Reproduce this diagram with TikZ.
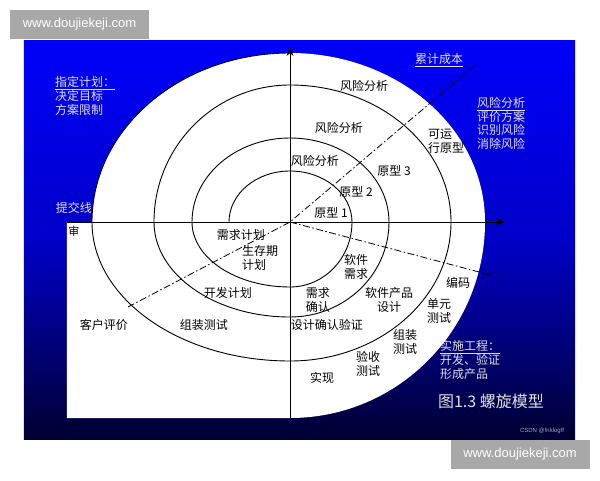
\documentclass[tikz,border=0pt]{standalone}
\usepackage{fontspec}
\newfontfamily\cjk{Noto Sans CJK SC}
\newfontfamily\wmfont{Liberation Sans}
\usetikzlibrary{arrows.meta}
\definecolor{panelblue}{RGB}{0,0,250}
\definecolor{panelmid}{RGB}{0,0,200}
\definecolor{panelnavy}{RGB}{0,0,50}
\definecolor{wmgray}{RGB}{168,168,168}
\definecolor{notegray}{RGB}{224,224,224}

\begin{document}
\begin{tikzpicture}[
    x=1pt, y=1pt,
    axis/.style={line width=0.8pt, -{Stealth[length=9pt, width=7pt]}},
    spiral line/.style={line width=0.9pt},
    dashdot line/.style={line width=0.8pt, dash pattern=on 7pt off 2.5pt on 1.5pt off 2.5pt},
    lbl/.style={font=\cjk\fontsize{12}{13.7}\selectfont, inner sep=0pt, align=center},
    note/.style={lbl, text=notegray, align=left},
    watermark/.style={fill=wmgray, text=white, font=\wmfont\fontsize{13}{15}\selectfont,
        inner sep=0pt, minimum width=139pt, minimum height=29pt}
    ]

    \useasboundingbox (-290,-258) rectangle (310,222);
    % background panel
    \shade[top color=panelblue, bottom color=panelnavy, middle color=panelmid]
        (-266,-217) rectangle (285,182);
    % white region
    \fill[white] (-223,0) -- (-198,0)
        arc[start angle=180, end angle=90, x radius=198, y radius=169]
        arc[start angle=90, end angle=0, x radius=195, y radius=169]
        arc[start angle=0, end angle=-90, x radius=195, y radius=196]
        -- (-223,-196) -- cycle;

    % spiral
    \draw[spiral line] (-61,0)
        arc[start angle=180, end angle=90, x radius=61, y radius=51]
        arc[start angle=90, end angle=0, x radius=62, y radius=51]
        arc[start angle=0, end angle=-90, x radius=62, y radius=65]
        arc[start angle=-90, end angle=-180, x radius=98, y radius=65]
        arc[start angle=180, end angle=90, x radius=98, y radius=84]
        arc[start angle=90, end angle=0, x radius=99, y radius=84]
        arc[start angle=0, end angle=-90, x radius=99, y radius=95]
        arc[start angle=-90, end angle=-180, x radius=136, y radius=95]
        arc[start angle=180, end angle=90, x radius=136, y radius=137]
        arc[start angle=90, end angle=0, x radius=161, y radius=137]
        arc[start angle=0, end angle=-90, x radius=161, y radius=139]
        arc[start angle=-90, end angle=-180, x radius=198, y radius=139]
        arc[start angle=180, end angle=90, x radius=198, y radius=169];

    % axes
    \coordinate (O) at (0,0);
    \coordinate (xl) at (-223,0);
    \coordinate (xr) at (215,0);
    \coordinate (yb) at (0,-196);
    \coordinate (yt) at (0,175);
    \draw[axis] (xl) -- (xr);
    \draw[axis] (yb) -- (yt);

    % dash-dot lines
    \coordinate (cost) at (185,157);
    \coordinate (review) at (-162,-85);
    \coordinate (build) at (208,-55);
    \draw[dashdot line] (review) -- (O) -- (cost);
    \draw[dashdot line] (O) -- (build);

    % notes on the panel
    \node[note, anchor=west] (plan) at (-235,126) {\underline{指定计划：}\\决定目标\\方案限制};
    \node[note] (cumcost) at (149,162) {\underline{累计成本}};
    \node[note, anchor=west] (risknote) at (187,98.5) {\underline{风险分析}\\评价方案\\识别风险\\消除风险};
    \node[note, anchor=west] (engnote) at (150,-138) {\underline{实施工程：}\\开发、验证\\形成产品};
    \node[note] (submit) at (-216,14) {提交线};
    \node[note, font=\cjk\fontsize{16}{18}\selectfont] (title) at (201,-179) {图1.3 螺旋模型};
    \node[inner sep=0pt, text=gray!70, font=\wmfont\fontsize{6}{7}\selectfont] (csdn) at (252,-209) {CSDN @friklogff};

    % labels in the spiral
    \node[lbl, font=\cjk\fontsize{11}{12}\selectfont] (shen) at (-216,-9) {审};
    \node[lbl] (risk1) at (25,61) {风险分析};
    \node[lbl] (risk2) at (49,94) {风险分析};
    \node[lbl] (risk3) at (74,136) {风险分析};
    \node[lbl] (proto1) at (41,9) {原型 1};
    \node[lbl] (proto2) at (66,30) {原型 2};
    \node[lbl] (proto3) at (104,51) {原型 3};
    \node[lbl, align=left, anchor=west] (opproto) at (138,81) {可运\\行原型};
    \node[lbl] (reqplan) at (-49,-13) {需求计划};
    \node[lbl, align=left, anchor=west] (lifeplan) at (-48,-36) {生存期\\计划};
    \node[lbl] (devplan) at (-62,-71) {开发计划};
    \node[lbl] (softreq) at (66,-45) {软件\\需求};
    \node[lbl] (reqconf) at (28,-78) {需求\\确认};
    \node[lbl] (design) at (99,-78) {软件产品\\设计};
    \node[lbl] (coding) at (168,-61) {编码};
    \node[lbl] (unittest) at (149,-89) {单元\\测试};
    \node[lbl] (designver) at (37,-103) {设计确认验证};
    \node[lbl] (assemble) at (-86,-103) {组装测试};
    \node[lbl] (custeval) at (-186,-103) {客户评价};
    \node[lbl] (asmtest) at (115,-120) {组装\\测试};
    \node[lbl] (acctest) at (78,-142) {验收\\测试};
    \node[lbl] (impl) at (32,-156) {实现};

    % watermarks
    \node[watermark] (wm1) at (-210.5,197.5) {www.doujiekeji.com};
    \node[watermark] (wm2) at (230,-232.5) {www.doujiekeji.com};
\end{tikzpicture}
\end{document}
